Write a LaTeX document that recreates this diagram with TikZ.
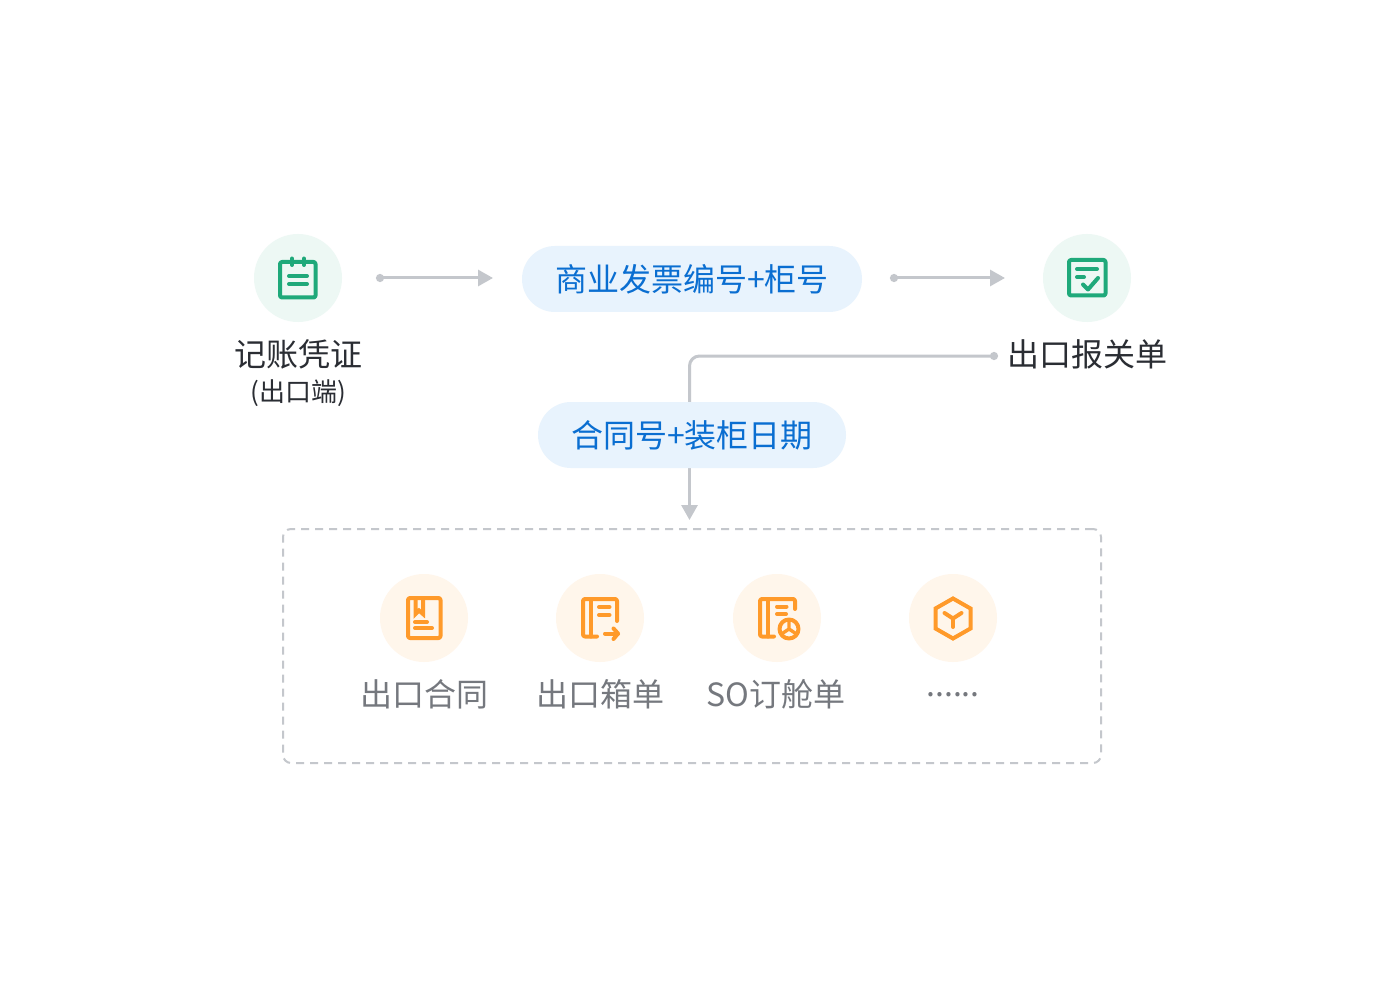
\documentclass[tikz,border=0pt]{standalone}
\usepackage{fontspec}
\setmainfont{Noto Sans CJK SC}
\usetikzlibrary{arrows.meta}
\definecolor{gl}{HTML}{EDF8F4}
\definecolor{gd}{HTML}{1FA97A}
\definecolor{ol}{HTML}{FFF6EB}
\definecolor{od}{HTML}{FF9A2A}
\definecolor{pl}{HTML}{E8F3FD}
\definecolor{bt}{HTML}{0A6ED1}
\definecolor{ln}{HTML}{C4C7CC}
\definecolor{dk}{HTML}{2A2D33}
\definecolor{gt}{HTML}{75787E}
\tikzset{
 disc/.style={circle,minimum size=88pt,inner sep=0pt,fill=#1},
 pill/.style={rounded corners=33pt,fill=pl,text=bt,minimum height=66pt,inner sep=0pt,font=\fontsize{32}{32}\selectfont},
 bigtext/.style={text=dk,inner sep=0pt,font=\fontsize{32}{32}\selectfont},
 smalltext/.style={text=dk,inner sep=0pt,font=\fontsize{26}{26}\selectfont},
 captext/.style={text=gt,inner sep=0pt,font=\fontsize{32}{32}\selectfont},
 conn/.style={draw=ln,line width=3pt,{Circle[length=8pt]}-{Triangle[length=15pt,width=16pt]}},
 gic/.style={draw=gd,line width=4pt,line cap=round,line join=round},
 oic/.style={draw=od,line width=4pt,line cap=round,line join=round},
}
\begin{document}
\begin{tikzpicture}[x=1pt,y=-1pt]
\useasboundingbox (0,0) rectangle (1400,1000);
\fill[white] (0,0) rectangle (1400,1000);
% dashed frame
\node[draw=ln,line width=2pt,dash pattern=on 8pt off 6pt,rounded corners=8pt,minimum width=818pt,minimum height=234pt,inner sep=0pt] (frame) at (692,646) {};
% connectors
\coordinate (s1) at (376,278);\coordinate (e1) at (493,278);
\coordinate (s2) at (890,278);\coordinate (e2) at (1005,278);
\coordinate (s3) at (998,356);\coordinate (j1) at (689.5,410);
\coordinate (j2) at (689.5,460);\coordinate (e3) at (689.5,520);
\draw[conn] (s1) -- (e1);
\draw[conn] (s2) -- (e2);
\draw[draw=ln,line width=3pt,{Circle[length=8pt]}-,rounded corners=10pt] (s3) -| (j1);
\draw[draw=ln,line width=3pt,-{Triangle[length=15pt,width=16pt]}] (j2) -- (e3);
% pills
\node[pill,minimum width=340pt] (p1) at (692,279) {商业发票编号+柜号};
\node[pill,minimum width=308pt] (p2) at (692,435) {合同号+装柜日期};
% discs
\node[disc=gl] (c1) at (298,278) {};
\node[disc=gl] (c2) at (1087,278) {};
\node[disc=ol] (o1) at (424,618) {};
\node[disc=ol] (o2) at (600,618) {};
\node[disc=ol] (o3) at (777,618) {};
\node[disc=ol] (o4) at (953,618) {};
% labels
\node[bigtext] (t1) at (298,354.5) {记账凭证};
\node[smalltext] (t2) at (298,393.5) {(出口端)};
\node[bigtext] (t3) at (1087,354.5) {出口报关单};
\node[captext] (t4) at (424,694.5) {出口合同};
\node[captext] (t5) at (600,694.5) {出口箱单};
\node[captext] (t6) at (776,694.5) {SO订舱单};
\node[captext] (t7) at (953,695) {......};
% icon 1
\draw[gic,rounded corners=2pt] (280,262) rectangle (315.5,297.5);
\draw[gic] (292,258.5) -- (292,265);
\draw[gic] (304,258.5) -- (304,265);
\draw[gic] (289,276) -- (307,276);
\draw[gic] (289,284) -- (299,284) (299,284) -- (307,284);
% icon 2
\draw[gic,rounded corners=2pt] (1069,260) rectangle (1105.5,295.5);
\draw[gic] (1077,269) -- (1097,269);
\draw[gic] (1077,277) -- (1084,277);
\draw[gic] (1083,284.5) -- (1088,289.5) -- (1098,278);
% orange 1
\draw[oic,rounded corners=2pt] (408,598) rectangle (440.5,638);
\draw[oic,line cap=butt,line join=miter] (415.5,598) -- (415.5,614) -- (419,610.5) -- (423,614) -- (423,598);
\draw[oic] (415,622) -- (427,622);
\draw[oic] (415,628) -- (432,628);
% orange 2
\draw[oic,rounded corners=2pt] (617,621) -- (617,599) -- (583,599) -- (583,636.5) -- (597,636.5);
\draw[oic] (590.5,599) -- (590.5,636.5);
\draw[oic] (599,607) -- (609.5,607);
\draw[oic] (599,615) -- (609.5,615);
\draw[oic] (605,633.5) -- (618,633.5);
\draw[oic] (613.5,628.5) -- (618,633.5) -- (613.5,639);
% orange 3
\draw[oic,rounded corners=2pt] (795,609) -- (795,599) -- (760,599) -- (760,636.5) -- (774,636.5);
\draw[oic] (768,599) -- (768,636.5);
\draw[oic] (777,606.5) -- (786.5,606.5);
\draw[oic] (777,614) -- (786,614);
\draw[oic,fill=ol] (789,629) circle (9.5pt);
\draw[oic,line width=3.4pt,line cap=butt] (789,620) -- (789,629) (789,629) -- (781.5,634) (789,629) -- (796.5,634);
% orange 4
\draw[oic,line join=miter] (953,598.5) -- (970.5,608.5) -- (970.5,628.5) -- (953,638.5) -- (935.5,628.5) -- (935.5,608.5) -- cycle;
\draw[oic] (944.5,613) -- (953,618.5) -- (961.5,613);
\draw[oic] (953,618.5) -- (953,627);
\end{tikzpicture}
\end{document}
